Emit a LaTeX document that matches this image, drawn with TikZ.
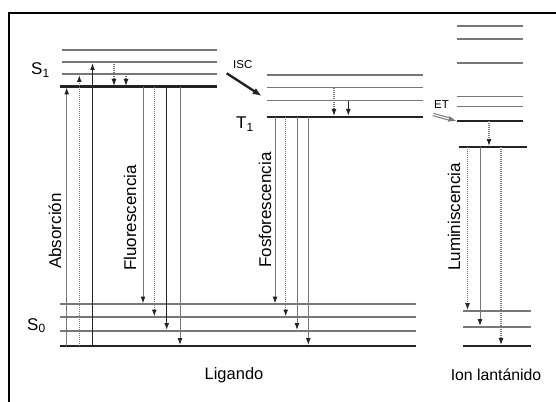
\documentclass[tikz,border=0pt]{standalone}
\usepackage{fontspec}
\setmainfont{Liberation Sans}
\usetikzlibrary{arrows.meta}
\definecolor{lvgray}{RGB}{120,120,120}
\definecolor{lvdark}{RGB}{35,35,35}
\tikzset{
  thinlevel/.style={draw=lvgray,line width=1.6pt},
  thicklevel/.style={draw=lvdark,line width=2.4pt},
  midlevel/.style={draw=lvdark,line width=1.7pt},
  tr/.style={line width=1pt,-{Latex[length=7pt,width=5pt,color=lvdark]}},
  trgray/.style={tr,draw=lvgray},
  trblack/.style={tr,draw=lvdark,line width=1.3pt},
  trdot/.style={tr,draw=lvgray,dash pattern=on 1.2pt off 0.8pt,line width=1.2pt},
  lbl/.style={font=\fontsize{17}{20}\selectfont,inner sep=0pt,text=black},
  vlbl/.style={lbl,rotate=90},
  small/.style={font=\fontsize{11.5}{13}\selectfont,inner sep=0pt,text=black}
}
\begin{document}
\begin{tikzpicture}[x=1pt,y=-1pt]
\useasboundingbox (0,0) rectangle (556,401);
% frame (top and left only visible)
\draw[line width=1.4pt,draw=black] (9,405) -- (9,13) -- (560,13);
% S1 levels
\draw[thinlevel] (62,50) -- (217,50);
\draw[thinlevel] (62,62) -- (217,62);
\draw[thinlevel] (62,74) -- (217,74);
\draw[thicklevel] (60,86.7) -- (217,86.7);
% S0 levels
\draw[thinlevel] (60,304) -- (416,304);
\draw[thinlevel] (60,317) -- (416,317);
\draw[thinlevel] (60,330.7) -- (416,330.7);
\draw[thicklevel] (60,345.7) -- (416,345.7);
% T1 levels
\draw[thinlevel] (266.7,75) -- (422.7,75);
\draw[thinlevel] (266.7,87.7) -- (422.7,87.7);
\draw[thinlevel] (266.7,100.7) -- (422.7,100.7);
\draw[thicklevel] (266.7,116.7) -- (422.7,116.7);
% ion levels
\draw[thinlevel] (457,26) -- (523,26);
\draw[thinlevel] (457,39.3) -- (523,39.3);
\draw[thinlevel] (457,63.3) -- (523,63.3);
\draw[thinlevel] (457,96.7) -- (523,96.7);
\draw[thinlevel] (457,106.7) -- (523,106.7);
\draw[midlevel] (457,121) -- (523,121);
\draw[midlevel] (459,146.7) -- (527,146.7);
\draw[thinlevel] (463,310.7) -- (530.7,310.7);
\draw[thinlevel] (463,326.7) -- (530.7,326.7);
\draw[thicklevel] (463,345.7) -- (530.7,345.7);
% absorption
\draw[trgray] (66.7,345.7) -- (66.7,87.5);
\draw[trdot] (79.3,345.7) -- (79.3,75);
\draw[trblack] (92.5,345.7) -- (92.5,63);
% S1 relaxation
\draw[trdot] (114,62) -- (114,86);
\draw[trdot] (126,74) -- (126,86);
% fluorescence
\draw[trgray] (143,86.7) -- (143,303.5);
\draw[trdot] (154.3,86.7) -- (154.3,316.5);
\draw[trblack] (166.7,86.7) -- (166.7,330);
\draw[trgray] (180,86.7) -- (180,345);
% ISC
\draw[line width=2.4pt,draw=lvdark,-{Latex[length=9pt,width=7pt]}] (226.7,73.3) -- (261.7,96);
% T1 relaxation
\draw[trdot] (334,87.7) -- (334,116);
\draw[trblack] (348.3,100.7) -- (348.3,116);
% phosphorescence
\draw[trgray] (275,116.7) -- (275,303.5);
\draw[trdot] (285.7,116.7) -- (285.7,316.5);
\draw[trgray] (297,116.7) -- (297,330);
\draw[trgray] (308.3,116.7) -- (308.3,345);
% ET
\draw[double=white,double distance=1.2pt,draw=lvgray,line width=1.1pt,-{Latex[length=8pt,width=6pt]}] (433,114.5) -- (456.5,121);
% ion relaxation
\draw[trdot] (489,121) -- (489,146);
% luminescence
\draw[trdot] (467.5,146.7) -- (467.5,310);
\draw[trgray] (480,146.7) -- (480,326);
\draw[trdot] (501,146.7) -- (501,345);
% labels
\node[lbl,anchor=base west] (s1) at (31,75) {S\textsubscript{1}};
\node[lbl,anchor=base west] (s0) at (27,330) {S\textsubscript{0}};
\node[lbl,anchor=base west] (t1) at (236,128.5) {T\textsubscript{1}};
\node[small,anchor=base west] (isc) at (233,68.5) {ISC};
\node[small,anchor=base west] (et) at (434,108.5) {ET};
\node[lbl,font=\fontsize{16.5}{20}\selectfont] (lig) at (234,375) {Ligando};
\node[lbl,font=\fontsize{15.8}{20}\selectfont] (ion) at (496,375) {Ion lantánido};
\node[vlbl] (abs) at (55,231) {Absorción};
\node[vlbl] (flu) at (130,218) {Fluorescencia};
\node[vlbl] (fos) at (265,210) {Fosforescencia};
\node[vlbl] (lum) at (454,217) {Luminiscencia};
\end{tikzpicture}
\end{document}
